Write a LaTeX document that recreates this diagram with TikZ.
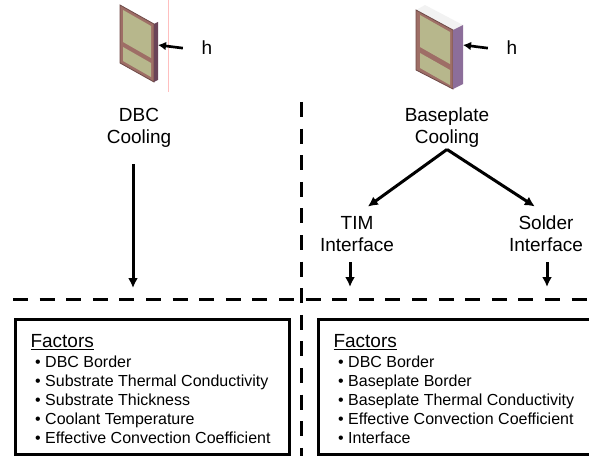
\documentclass[tikz,border=0pt]{standalone}
\usepackage{fontspec}
\setmainfont{Liberation Sans}
\usetikzlibrary{arrows.meta}

\definecolor{frame}{HTML}{9E6E66}
\definecolor{frameedge}{HTML}{6E4A48}
\definecolor{panel}{HTML}{B7B78C}
\definecolor{sidel}{HTML}{6A4458}
\definecolor{sider}{HTML}{8C6E9A}
\definecolor{topface}{HTML}{F2F2F2}

\newcommand{\bigtext}{\fontsize{14.25}{16.5}\selectfont}
\newcommand{\listtext}{\fontsize{12}{14.25}\selectfont}
\newcommand{\factor}[1]{\hspace*{3.5pt}\textbullet\ #1}

\begin{document}
\begin{tikzpicture}[x=0.75pt,y=-0.75pt,>={Latex[length=7.5pt,width=7.5pt]},line width=2.25pt]

    \tikzstyle{every node}=[inner sep=0pt]
    \tikzstyle{label}=[font=\bigtext,align=center,anchor=base]
    \tikzstyle{factors}=[font=\listtext,align=left,anchor=base west]
    \tikzstyle{divider}=[dash pattern=on 11.25pt off 8.7pt]
    \tikzstyle{hflux}=[->,line width=2pt,>={Latex[length=6pt,width=6.5pt]}]

    \useasboundingbox (0,0) rectangle (589,456);

    % DBC cooled module, thin side
    \draw[red!25,line width=0.5pt] (168,0) -- (168,92);
    \filldraw[fill=frame,draw=frameedge,line width=0.6pt] (120,5) -- (154,24) -- (154,82) -- (120,63) -- cycle;
    \fill[sidel] (154,24) -- (158,22) -- (158,80) -- (154,82) -- cycle;
    \fill[panel] (123,10) -- (151,26) -- (151,58) -- (123,42) -- cycle;
    \fill[panel] (123,47) -- (151,63) -- (151,77) -- (123,61) -- cycle;

    % baseplate cooled module, thick side
    \fill[topface] (416,10) -- (425,5) -- (463,25) -- (453,30) -- cycle;
    \filldraw[fill=frame,draw=frameedge,line width=0.6pt] (416,10) -- (453,30) -- (453,89) -- (416,70) -- cycle;
    \fill[sider] (453,30) -- (463,25) -- (463,84) -- (453,89) -- cycle;
    \fill[panel] (420,15) -- (450,32) -- (450,64) -- (420,47) -- cycle;
    \fill[panel] (420,53) -- (450,70) -- (450,85) -- (420,68) -- cycle;

    \coordinate (sideL) at (158,45);
    \coordinate (sideR) at (463,45);
    \node[label] (hL) at (207,55) {h};
    \node[label] (hR) at (512,55) {h};
    \draw[hflux] ([xshift=-13pt]hL.west) -- (sideL);
    \draw[hflux] ([xshift=-13pt]hR.west) -- (sideR);

    % labels sit on the baseline of their last line
    \node[label] (dbc) at (139,144) {DBC\\Cooling};
    \node[label] (bpc) at (447,144) {Baseplate\\Cooling};
    \node[label] (tim) at (357,251) {TIM\\Interface};
    \node[label] (sol) at (546,251) {Solder\\Interface};

    % dividers
    \coordinate (hdivA) at (13,299.5);
    \coordinate (hdivB) at (589,299.5);
    \coordinate (vdivA) at (301.5,102);
    \coordinate (vdivB) at (301.5,456);
    \draw[divider] (hdivA) -- (hdivB);
    \draw[divider] (vdivA) -- (vdivB);

    \coordinate (dbcend) at (133,288);
    \coordinate (timend) at (350,287);
    \coordinate (solend) at (547,287);
    \draw[->,shorten <=11pt] (dbc.south -| dbcend) -- (dbcend);
    \draw[->,shorten >=10pt] (bpc.south) -- (tim.north);
    \draw[->,shorten >=10pt] (bpc.south) -- (sol.north);
    \draw[->,shorten <=7pt] (tim.south -| timend) -- (timend);
    \draw[->,shorten <=7pt] (sol.south -| solend) -- (solend);

    % factor boxes
    \draw (15.5,319.5) rectangle (289,454.5);
    \draw (318.5,319.5) rectangle (595,454.5);
    \node[factors] (fdbc) at (29,443) {{\bigtext\underline{Factors}}\\[0.75pt]
        \factor{DBC Border}\\
        \factor{Substrate Thermal Conductivity}\\
        \factor{Substrate Thickness}\\
        \factor{Coolant Temperature}\\
        \factor{Effective Convection Coefficient}};
    \node[factors] (fbp) at (332,443) {{\bigtext\underline{Factors}}\\[0.75pt]
        \factor{DBC Border}\\
        \factor{Baseplate Border}\\
        \factor{Baseplate Thermal Conductivity}\\
        \factor{Effective Convection Coefficient}\\
        \factor{Interface}};

\end{tikzpicture}
\end{document}
